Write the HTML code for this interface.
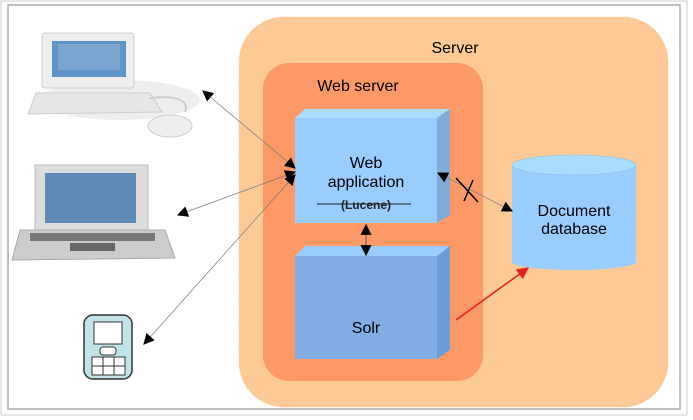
<!DOCTYPE html>
<html><head><style>
html,body{margin:0;padding:0;background:#fff;width:693px;height:420px;overflow:hidden}
text{font-family:"Liberation Sans",sans-serif}
</style></head><body>
<svg width="693" height="420" viewBox="0 0 693 420" xmlns="http://www.w3.org/2000/svg">
<defs>
<marker id="a" viewBox="0 0 10 10" refX="9" refY="5" markerWidth="11" markerHeight="11" orient="auto-start-reverse" markerUnits="userSpaceOnUse"><path d="M0,0L10,5L0,10z" fill="#000"/></marker>
<marker id="r" viewBox="0 0 10 10" refX="9" refY="5" markerWidth="12" markerHeight="12" orient="auto" markerUnits="userSpaceOnUse"><path d="M0,0L10,5L0,10z" fill="#e8201c"/></marker>
</defs>
<rect x="1" y="1" width="686" height="414" fill="#fff" stroke="#ccc"/>
<rect x="8" y="5" width="672" height="404" fill="#fff" stroke="#aaa" stroke-width="1.5"/>
<rect x="239" y="17" width="429" height="390" rx="45" fill="#fdca96" stroke="#f5c08c" stroke-dasharray="1,2"/>
<text x="455" y="53" font-size="16" text-anchor="middle">Server</text>
<rect x="263" y="63" width="220" height="318" rx="26" fill="#fd9966"/>
<text x="358" y="91" font-size="16" text-anchor="middle">Web server</text>
<polygon points="295,118 305,109 450,109 437,118" fill="#aadcff"/>
<polygon points="437,118 450,109 450,215 437,223" fill="#80aad8"/>
<rect x="295" y="118" width="142" height="105" fill="#99ccff"/>
<text x="366" y="168" font-size="16" text-anchor="middle">Web</text>
<text x="366" y="187" font-size="16" text-anchor="middle">application</text>
<text x="366" y="209" font-size="12" font-weight="bold" text-anchor="middle" fill="#222">(Lucene)</text>
<line x1="317" y1="204" x2="411" y2="204" stroke="#222"/>
<polygon points="295,256 305,246 450,246 437,256" fill="#99ccff"/>
<polygon points="437,256 450,246 450,350 437,359" fill="#6c9cd8"/>
<rect x="295" y="256" width="142" height="103" fill="#80ade4"/>
<text x="366" y="333" font-size="16" text-anchor="middle">Solr</text>
<path d="M512,164 L512,262 A62,8 0 0 0 636,262 L636,164 Z" fill="#99ccff"/>
<ellipse cx="574" cy="165" rx="62" ry="10" fill="#aadcff" stroke="#88bbee" stroke-width="0.5"/>
<text x="574" y="216" font-size="16" text-anchor="middle">Document</text>
<text x="574" y="234" font-size="16" text-anchor="middle">database</text>
<line x1="366" y1="225" x2="366" y2="255" stroke="#555" marker-start="url(#a)" marker-end="url(#a)"/>
<line x1="438" y1="173" x2="512" y2="211" stroke="#777" stroke-width="0.7" marker-start="url(#a)" marker-end="url(#a)"/>
<line x1="456" y1="178" x2="478" y2="202" stroke="#000" stroke-width="1.5"/>
<line x1="464" y1="201" x2="473" y2="180" stroke="#000" stroke-width="1.5"/>
<line x1="456" y1="320" x2="528" y2="268" stroke="#e8201c" stroke-width="1.5" marker-end="url(#r)"/>
<line x1="203" y1="91" x2="295" y2="168" stroke="#777" stroke-width="0.7" marker-start="url(#a)" marker-end="url(#a)"/>
<line x1="178" y1="215" x2="295" y2="172" stroke="#777" stroke-width="0.7" marker-start="url(#a)" marker-end="url(#a)"/>
<line x1="144" y1="344" x2="295" y2="175" stroke="#777" stroke-width="0.7" marker-start="url(#a)" marker-end="url(#a)"/>
<ellipse cx="120" cy="100" rx="80" ry="20" fill="#eee"/>
<rect x="42" y="33" width="92" height="55" rx="3" fill="#eee" stroke="#ccc"/>
<rect x="52" y="41" width="74" height="36" fill="#5f95c6"/>
<rect x="58" y="44" width="62" height="26" fill="#8ab4da" opacity="0.6"/>
<path d="M36,93 L150,93 L162,112 L28,114 Z" fill="#e6e6e6" stroke="#ccc"/>
<path d="M150,98 C175,95 190,100 185,112" stroke="#ccc" stroke-width="2" fill="none"/>
<ellipse cx="170" cy="126" rx="22" ry="11" fill="#eee" stroke="#ccc"/>
<rect x="35" y="165" width="113" height="65" fill="#ddd" stroke="#bbb"/>
<rect x="45" y="173" width="91" height="50" fill="#5f8bb6"/>
<path d="M20,230 L165,230 L175,258 L12,260 Z" fill="#ccc" stroke="#aaa"/>
<rect x="30" y="233" width="125" height="8" fill="#777"/>
<rect x="70" y="243" width="45" height="8" fill="#666"/>
<rect x="84" y="315" width="48" height="64" rx="9" fill="#bfe3e6" stroke="#333" stroke-width="1.5"/>
<rect x="94" y="322" width="28" height="22" fill="#fff" stroke="#333"/>
<rect x="100" y="347" width="16" height="8" rx="3" fill="#fff" stroke="#333"/>
<rect x="92" y="357" width="33" height="18" fill="#fff" stroke="#333"/>
<line x1="103" y1="357" x2="103" y2="375" stroke="#333"/>
<line x1="114" y1="357" x2="114" y2="375" stroke="#333"/>
<line x1="92" y1="366" x2="125" y2="366" stroke="#333"/>
</svg>
</body></html>
